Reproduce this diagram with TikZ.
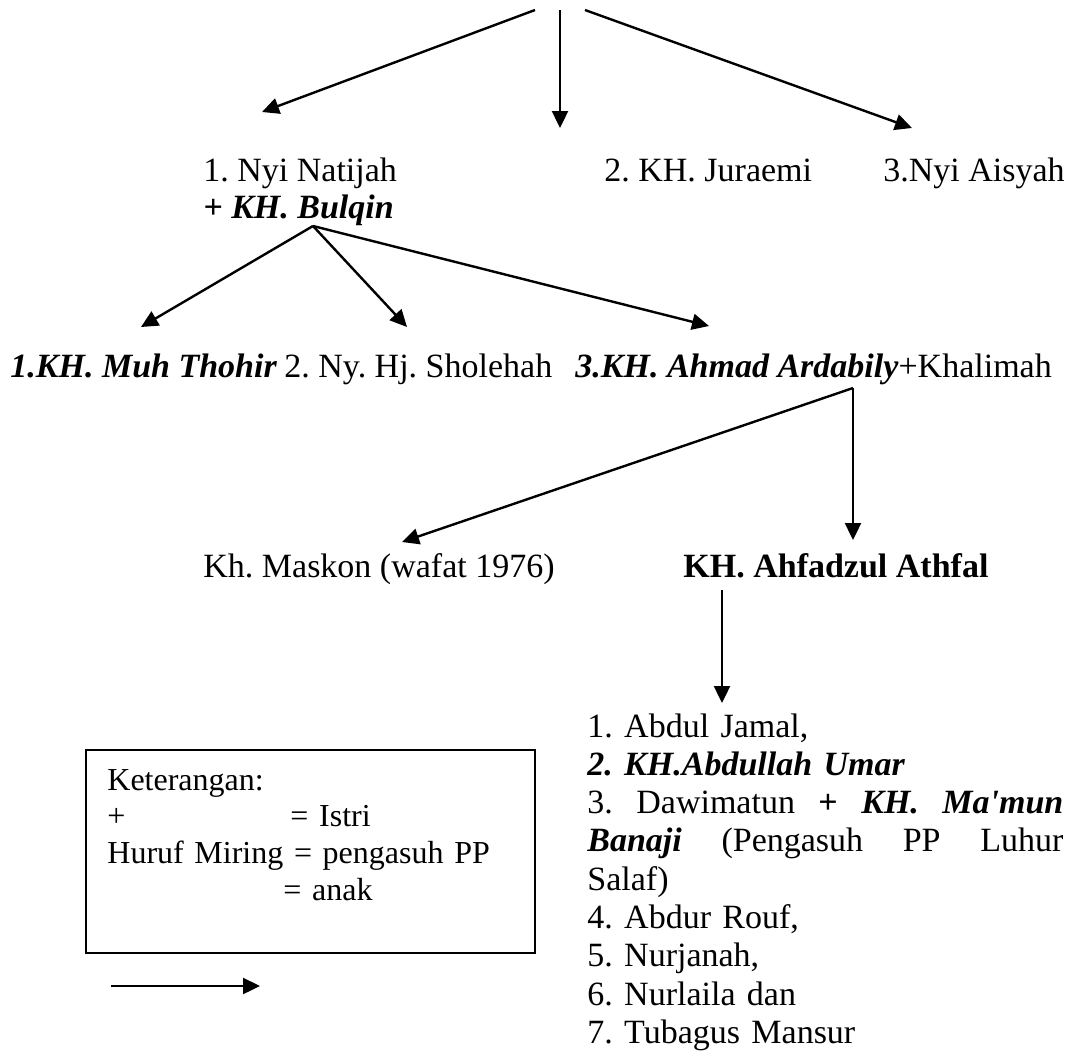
\documentclass[tikz,border=0pt]{standalone}
\usepackage{fontspec}
\setmainfont{Liberation Serif}
\usetikzlibrary{arrows.meta}
\frenchspacing
\begin{document}
\begin{tikzpicture}[x=0.5pt,y=-0.5pt,
  conn/.style={line width=1.2pt,-{Triangle[length=8.5pt,width=8pt]}},
  txt/.style={inner sep=0pt,anchor=base west,font=\fontsize{17}{19.15}\selectfont},
  legtxt/.style={inner sep=0pt,anchor=base west,align=left,text width=215pt,font=\fontsize{16}{18.35}\selectfont},
  bi/.style={font=\fontsize{17}{19.15}\selectfont\bfseries\itshape}]
\useasboundingbox (0,0) rectangle (1078,1061);
% top level
\coordinate (t1) at (535,10);
\coordinate (t2) at (560,10);
\coordinate (t3) at (585,10);
\coordinate (natijahtip) at (262,112);
\coordinate (juraemitip) at (560,128);
\coordinate (aisyahtip) at (912,128);
\node[txt] (natijah) at (203,181) {1. Nyi Natijah};
\node[txt] (juraemi) at (604,181) {2. KH. Juraemi};
\node[txt] (aisyah) at (883,181) {3.Nyi Aisyah};
\node[txt,bi] (bulqin) at (203,218) {+ KH. Bulqin};
\draw[conn] (t1) -- (natijahtip);
\draw[conn] (t2) -- (juraemitip);
\draw[conn] (t3) -- (aisyahtip);
% second level
\coordinate (bulqinsrc) at (313,226);
\coordinate (thohirtip) at (141,327);
\coordinate (sholehahtip) at (407,327);
\coordinate (ardabilytip) at (709,326);
\node[txt,bi] (thohir) at (10,377) {1.KH. Muh Thohir};
\node[txt] (sholehah) at (284,377) {2. Ny. Hj. Sholehah};
\node[txt] (ardabily) at (575,377) {\textbf{\textit{3.KH. Ahmad Ardabily}}+Khalimah};
\draw[conn] (bulqinsrc) -- (thohirtip);
\draw[conn] (bulqinsrc) -- (sholehahtip);
\draw[conn] (bulqinsrc) -- (ardabilytip);
% third level
\coordinate (ardabilysrc) at (853,388);
\coordinate (maskontip) at (402,542);
\coordinate (athfaltip) at (853,540);
\node[txt] (maskon) at (203,577) {Kh. Maskon (wafat 1976)};
\node[txt] (athfal) at (683,577) {\textbf{KH. Ahfadzul Athfal}};
\draw[conn] (ardabilysrc) -- (maskontip);
\draw[conn] (ardabilysrc) -- (athfaltip);
% fourth level
\coordinate (athfalsrc) at (722,590);
\coordinate (anaktip) at (722,703);
\node[txt,text width=238pt,align=left] (anak) at (587,737) {1. Abdul Jamal,\\
\textbf{\textit{2. KH.Abdullah Umar}}\\
\makebox[238pt][l]{3.\hfill Dawimatun\hfill \textbf{+}\hfill \textbf{\textit{KH.}}\hfill \textbf{\textit{Ma\textquotesingle mun}}}\\
\makebox[238pt][l]{\textbf{\textit{Banaji}}\hfill (Pengasuh\hfill PP\hfill Luhur}\\
Salaf)\\
4. Abdur Rouf,\\
5. Nurjanah,\\
6. Nurlaila dan\\
7. Tubagus Mansur};
\draw[conn] (athfalsrc) -- (anaktip);
% legend
\node[draw,line width=0.7pt,minimum width=224.5pt,minimum height=101.5pt,inner sep=0pt] (legbox) at (310.5,851.5) {};
\node[legtxt] (legtext) at (107,790) {Keterangan:\\
+\hspace*{82.5pt}= Istri\\
Huruf Miring = pengasuh PP\\
\hspace*{88pt}= anak};
\coordinate (legA) at (111,986);
\coordinate (legB) at (260,986);
\draw[conn] (legA) -- (legB);
\end{tikzpicture}
\end{document}
